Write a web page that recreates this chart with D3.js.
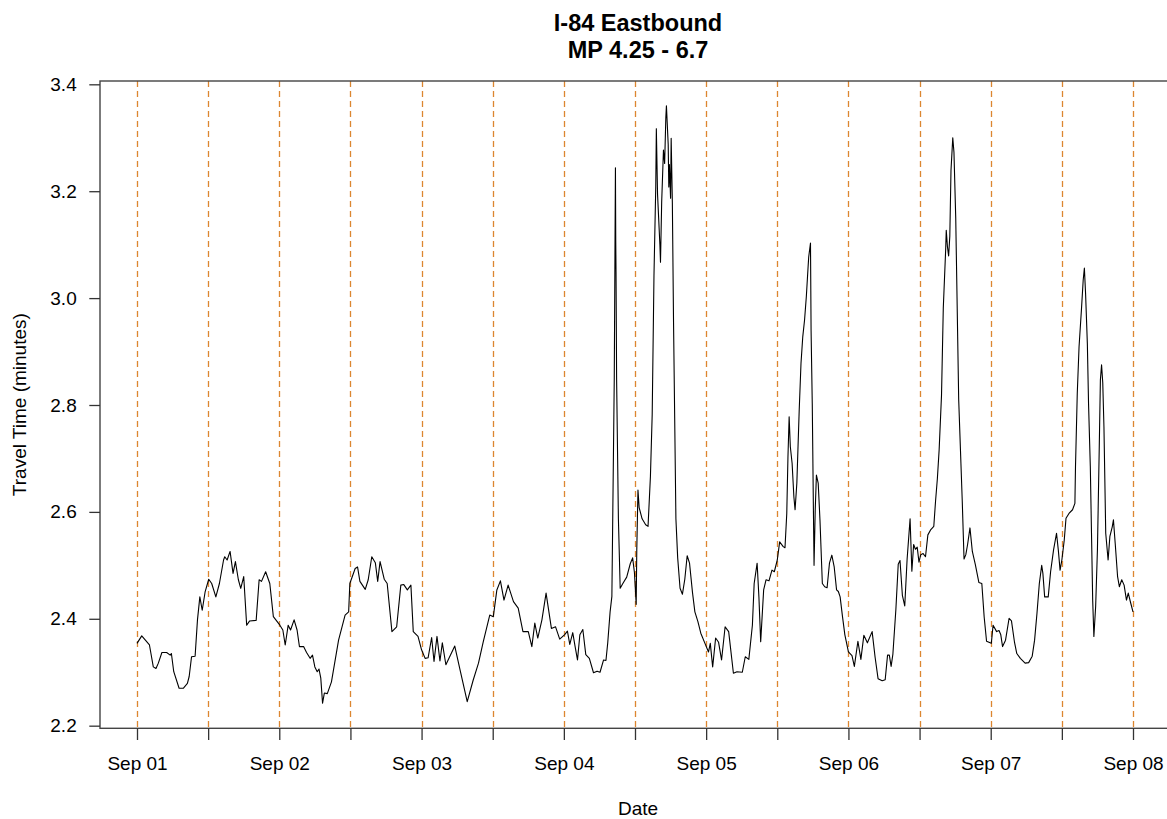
<!DOCTYPE html>
<html>
<head>
<meta charset="utf-8">
<script src="https://cdn.jsdelivr.net/npm/d3@7"></script>
<style>
  body { margin: 0; background: #fff; }
  svg { display: block; }
  text { font-family: "Liberation Sans", Arial, Helvetica, sans-serif; fill: #000; }
</style>
</head>
<body>
<svg id="chart" width="1167" height="819"></svg>
<script>
// Travel time observations: hours elapsed since Sep 01 00:00, and minutes.
const obsHours = [
  0, 0.8, 2.1, 2.75, 3.2, 3.6, 4.2, 5.0, 5.6, 5.8, 6.2, 7.1, 7.8, 8.5, 8.8, 9.2, 9.8,
  10.2, 10.6, 11.0, 11.5, 12.1, 12.6, 13.3, 13.9, 14.6, 14.8, 15.2, 15.7, 16.2, 16.6,
  17.1, 17.5, 18.0, 18.5, 19.0, 20.1, 20.6, 21.0, 21.7, 22.4, 23.0,
  24.1, 24.6, 25.0, 25.5, 25.9, 26.5, 27.0, 27.4, 28.1, 28.6, 29.2, 29.6, 30.0, 30.4,
  30.7, 31.0, 31.3, 31.6, 32.1, 32.8, 34.0, 35.1, 35.7, 35.9, 36.8, 37.2, 37.6, 38.5,
  39.0, 39.6, 40.2, 40.6, 41.0, 41.7, 42.2, 43.0, 43.8, 44.5, 45.0, 45.6, 46.2, 46.6, 47.4,
  48.0, 48.6, 49.1, 49.7, 50.1, 50.6, 51.1, 51.5, 52.1, 53.6, 54.5, 55.7, 56.7, 57.6,
  58.4, 59.5, 60.1, 60.7, 61.3, 61.9, 62.6, 63.5, 64.3, 65.1, 66.0, 66.6, 67.1, 67.6,
  68.3, 69.0, 69.9, 70.6, 71.3,
  72.1, 72.6, 73.0, 73.5, 73.9, 74.3, 74.7, 75.2, 75.7, 76.3, 77.0, 77.6, 78.1, 78.7,
  79.1, 79.4, 79.8, 80.1, 80.3, 80.5, 80.6, 80.7, 80.75, 80.8, 80.9, 81.2, 81.5, 82.0,
  82.6, 83.2, 83.6, 83.9, 84.2, 84.3, 84.5, 84.7, 85.2, 85.8, 86.2, 86.6, 86.9, 87.2,
  87.5, 87.6, 87.8, 88.2, 88.3, 88.5, 88.8, 89.0, 89.2, 89.3, 89.6, 89.7, 89.8, 90.0,
  90.1, 90.3, 90.5, 90.9, 91.2, 91.6, 92.0, 92.4, 92.8, 93.2, 93.7, 94.1, 94.6, 95.1,
  95.8, 96.4, 96.7, 97.1, 97.6, 98.1, 98.6, 99.2, 99.8, 100.6, 101.2, 102.1, 102.6,
  103.2, 103.8, 104.1, 104.6, 104.9, 105.2, 105.7, 106.1, 106.6, 107.1, 107.5, 108.0,
  108.4, 109.0, 109.3, 109.6, 109.8, 110.0, 110.2, 110.5, 110.8, 111.0, 111.3, 111.7,
  112.0, 112.3, 112.6, 112.9, 113.2, 113.3, 113.6, 113.7, 113.9, 114.1, 114.2, 114.4,
  114.6, 114.9, 115.2, 115.6, 116.0, 116.4, 116.8, 117.2, 117.6, 118.0, 118.3, 118.6,
  119.0, 119.4,
  120.0, 120.6, 121.0, 121.6, 122.1, 122.6, 123.2, 124.0, 124.5, 125.0, 125.7, 126.2,
  126.6, 126.9, 127.2, 127.5, 128.0, 128.4, 128.7, 129.1, 129.5, 129.9, 130.4, 130.7,
  131.0, 131.3, 131.6, 131.9, 132.2, 132.6, 133.0, 133.4, 133.9, 134.4, 134.7, 135.0,
  135.3, 135.7, 136.0, 136.4, 136.5, 136.7, 136.9, 137.1, 137.3, 137.6, 137.8, 138.1,
  138.3, 138.6, 138.9, 139.2, 139.5, 139.8, 140.1, 140.5, 140.9, 141.4, 142.0, 142.5,
  142.9, 143.3,
  144.1, 144.4, 145.0, 145.4, 145.7, 146.0, 146.5, 147.1, 147.5, 148.0, 148.4, 149.0,
  149.8, 150.4, 151.0, 151.4, 151.8, 152.2, 152.6, 152.8, 153.1, 153.7, 154.1, 154.6,
  155.1, 155.4, 155.7, 156.0, 156.4, 156.7, 157.2, 157.8, 158.2, 158.3, 158.6, 158.9,
  159.3, 159.6, 159.8, 160.0, 160.3, 160.5, 160.8, 161.0, 161.2, 161.4, 161.7, 162.0,
  162.3, 162.5, 162.7, 162.9, 163.1, 163.4, 163.8, 164.1, 164.5, 164.7, 165.0, 165.4,
  165.7, 166.1, 166.5, 166.9, 167.2, 167.6, 168.0
];

const obsMinutes = [
  2.354, 2.368, 2.351, 2.310, 2.307, 2.317, 2.337, 2.337, 2.332, 2.335, 2.301, 2.270, 2.270, 2.279, 2.292, 2.329, 2.330,
  2.398, 2.441, 2.416, 2.451, 2.474, 2.466, 2.441, 2.466, 2.510, 2.516, 2.510, 2.526, 2.485, 2.507,
  2.473, 2.457, 2.479, 2.388, 2.396, 2.397, 2.473, 2.470, 2.488, 2.466, 2.404,
  2.388, 2.379, 2.351, 2.388, 2.379, 2.398, 2.379, 2.348, 2.348, 2.337, 2.326, 2.332, 2.310, 2.301,
  2.306, 2.289, 2.242, 2.261, 2.260, 2.282, 2.360, 2.407, 2.413, 2.466, 2.494, 2.497, 2.470, 2.455,
  2.473, 2.516, 2.505, 2.470, 2.507, 2.474, 2.466, 2.376, 2.385, 2.463, 2.464, 2.454, 2.463, 2.376, 2.367,
  2.342, 2.326, 2.327, 2.365, 2.320, 2.367, 2.321, 2.355, 2.314, 2.349, 2.304, 2.245, 2.285, 2.317,
  2.357, 2.407, 2.404, 2.454, 2.471, 2.435, 2.463, 2.432, 2.420, 2.376, 2.376, 2.348, 2.392, 2.364,
  2.398, 2.448, 2.382, 2.385, 2.362,
  2.370, 2.377, 2.352, 2.374, 2.348, 2.323, 2.370, 2.380, 2.333, 2.326, 2.299, 2.302, 2.300, 2.323,
  2.322, 2.355, 2.413, 2.442, 2.644, 2.847, 3.046, 3.244, 3.110, 3.049, 2.847, 2.587, 2.457, 2.467,
  2.478, 2.503, 2.514, 2.487, 2.427, 2.529, 2.641, 2.608, 2.587, 2.576, 2.573, 2.666, 2.782, 3.042,
  3.208, 3.317, 3.195, 3.100, 3.067, 3.180, 3.277, 3.252, 3.338, 3.360, 3.288, 3.208, 3.250, 3.187,
  3.299, 3.179, 2.955, 2.587, 2.514, 2.457, 2.446, 2.474, 2.518, 2.504, 2.449, 2.413, 2.395, 2.373,
  2.354, 2.338, 2.354, 2.310, 2.364, 2.356, 2.323, 2.385, 2.376, 2.298, 2.301, 2.300, 2.329,
  2.324, 2.388, 2.466, 2.504, 2.441, 2.357, 2.454, 2.473, 2.471, 2.491, 2.488, 2.510,
  2.544, 2.535, 2.533, 2.597, 2.703, 2.778, 2.722, 2.691, 2.628, 2.604, 2.654, 2.791,
  2.878, 2.928, 2.959, 3.003, 3.059, 3.077, 3.103, 2.940, 2.803, 2.597, 2.500, 2.604,
  2.669, 2.654, 2.585, 2.466, 2.460, 2.458, 2.504, 2.519, 2.497, 2.454, 2.451, 2.441,
  2.404, 2.370,
  2.338, 2.331, 2.311, 2.358, 2.324, 2.369, 2.355, 2.376, 2.328, 2.288, 2.284, 2.286,
  2.332, 2.332, 2.311, 2.334, 2.417, 2.502, 2.509, 2.444, 2.424, 2.512, 2.587, 2.489,
  2.539, 2.530, 2.534, 2.506, 2.520, 2.522, 2.516, 2.557, 2.567, 2.573, 2.621, 2.662,
  2.716, 2.818, 2.981, 3.090, 3.127, 3.096, 3.079, 3.116, 3.239, 3.300, 3.273, 3.150,
  3.014, 2.810, 2.715, 2.620, 2.512, 2.520, 2.539, 2.570, 2.526, 2.502, 2.468, 2.466,
  2.403, 2.358,
  2.354, 2.388, 2.376, 2.378, 2.370, 2.348, 2.360, 2.401, 2.396, 2.357, 2.335, 2.326,
  2.317, 2.318, 2.330, 2.360, 2.410, 2.466, 2.500, 2.485, 2.441, 2.441, 2.488, 2.529,
  2.560, 2.529, 2.491, 2.510, 2.547, 2.588, 2.597, 2.604, 2.616, 2.685, 2.822, 2.909,
  2.978, 3.034, 3.056, 3.009, 2.915, 2.803, 2.685, 2.560, 2.435, 2.367, 2.423, 2.529,
  2.716, 2.847, 2.875, 2.841, 2.759, 2.560, 2.510, 2.554, 2.572, 2.585, 2.541, 2.479,
  2.460, 2.473, 2.463, 2.435, 2.448, 2.430, 2.413
];

const dayTickLabels = ["Sep 01", "Sep 02", "Sep 03", "Sep 04", "Sep 05", "Sep 06", "Sep 07", "Sep 08"];
const yTickValues = [2.2, 2.4, 2.6, 2.8, 3.0, 3.2, 3.4];
const titleLines = ["I-84 Eastbound", "MP 4.25 - 6.7"];
const xAxisTitle = "Date";
const yAxisTitle = "Travel Time (minutes)";

// ---- layout ----
const plot = { left: 100, top: 81, right: 1176, bottom: 728.3 };
const HOUR = 3600 * 1000;
const t0 = Date.UTC(2018, 8, 1);
const tEnd = Date.UTC(2018, 8, 8);

const x = d3.scaleUtc().domain([new Date(t0), new Date(tEnd)]).range([137, 1133]);
const y = d3.scaleLinear().domain([2.1951, 3.4062]).range([plot.bottom, plot.top]);

const series = obsHours.map((h, i) => ({ t: new Date(t0 + h * HOUR), v: obsMinutes[i] }));

// ticks every 12 hours, labelled at midnight
const halfDayTicks = d3.utcHour.every(12).range(new Date(t0), new Date(tEnd + 1));
const labelFor = d => {
  const idx = Math.round((d - t0) / (24 * HOUR));
  return d.getUTCHours() === 0 ? dayTickLabels[idx] : "";
};

const svg = d3.select("#chart");

// vertical reference lines, snapped to the pixel grid so every one renders alike
const snap = v => Math.round(v) + 0.5;
svg.append("g")
  .selectAll("line")
  .data(halfDayTicks)
  .join("line")
  .attr("x1", d => snap(x(d))).attr("x2", d => snap(x(d)))
  .attr("y1", plot.top).attr("y2", plot.bottom)
  .attr("stroke", "#DC8630")
  .attr("stroke-width", 1.3)
  .attr("stroke-dasharray", "6,4");

// travel time line
svg.append("path")
  .datum(series)
  .attr("fill", "none")
  .attr("stroke", "#000")
  .attr("stroke-width", 1.1)
  .attr("stroke-linejoin", "round")
  .attr("d", d3.line().x(d => x(d.t)).y(d => y(d.v)));

// plot frame
svg.append("rect")
  .attr("x", plot.left).attr("y", plot.top)
  .attr("width", plot.right - plot.left).attr("height", plot.bottom - plot.top)
  .attr("fill", "none")
  .attr("stroke", "#444")
  .attr("stroke-width", 1.4);

// y axis
const yAxis = svg.append("g")
  .attr("transform", `translate(${plot.left},0)`)
  .call(d3.axisLeft(y).tickValues(yTickValues).tickFormat(d3.format(".1f")).tickSize(10.7).tickPadding(12.6));
yAxis.select(".domain").remove();
yAxis.selectAll(".tick line").attr("stroke", "#333").attr("stroke-width", 1.3);
yAxis.selectAll("text").style("font-size", "19px").attr("fill", "#000");

// x axis
const xAxis = svg.append("g")
  .attr("transform", `translate(0,${plot.bottom})`)
  .call(d3.axisBottom(x).tickValues(halfDayTicks).tickFormat(labelFor).tickSize(11.7).tickPadding(16.5));
xAxis.select(".domain").remove();
xAxis.selectAll(".tick line").attr("stroke", "#333").attr("stroke-width", 1.3);
xAxis.selectAll("text").style("font-size", "19px").attr("fill", "#000");

// titles
const cx = (plot.left + plot.right) / 2;
svg.append("text")
  .attr("x", cx).attr("y", 30.7)
  .attr("text-anchor", "middle")
  .style("font-size", "23.5px").style("font-weight", "bold")
  .text(titleLines[0]);
svg.append("text")
  .attr("x", cx).attr("y", 57.7)
  .attr("text-anchor", "middle")
  .style("font-size", "23.5px").style("font-weight", "bold")
  .text(titleLines[1]);

svg.append("text")
  .attr("x", cx).attr("y", 815)
  .attr("text-anchor", "middle")
  .style("font-size", "19px")
  .text(xAxisTitle);

svg.append("text")
  .attr("transform", `translate(26,${(plot.top + plot.bottom) / 2}) rotate(-90)`)
  .attr("text-anchor", "middle")
  .style("font-size", "19px")
  .text(yAxisTitle);
</script>
</body>
</html>
